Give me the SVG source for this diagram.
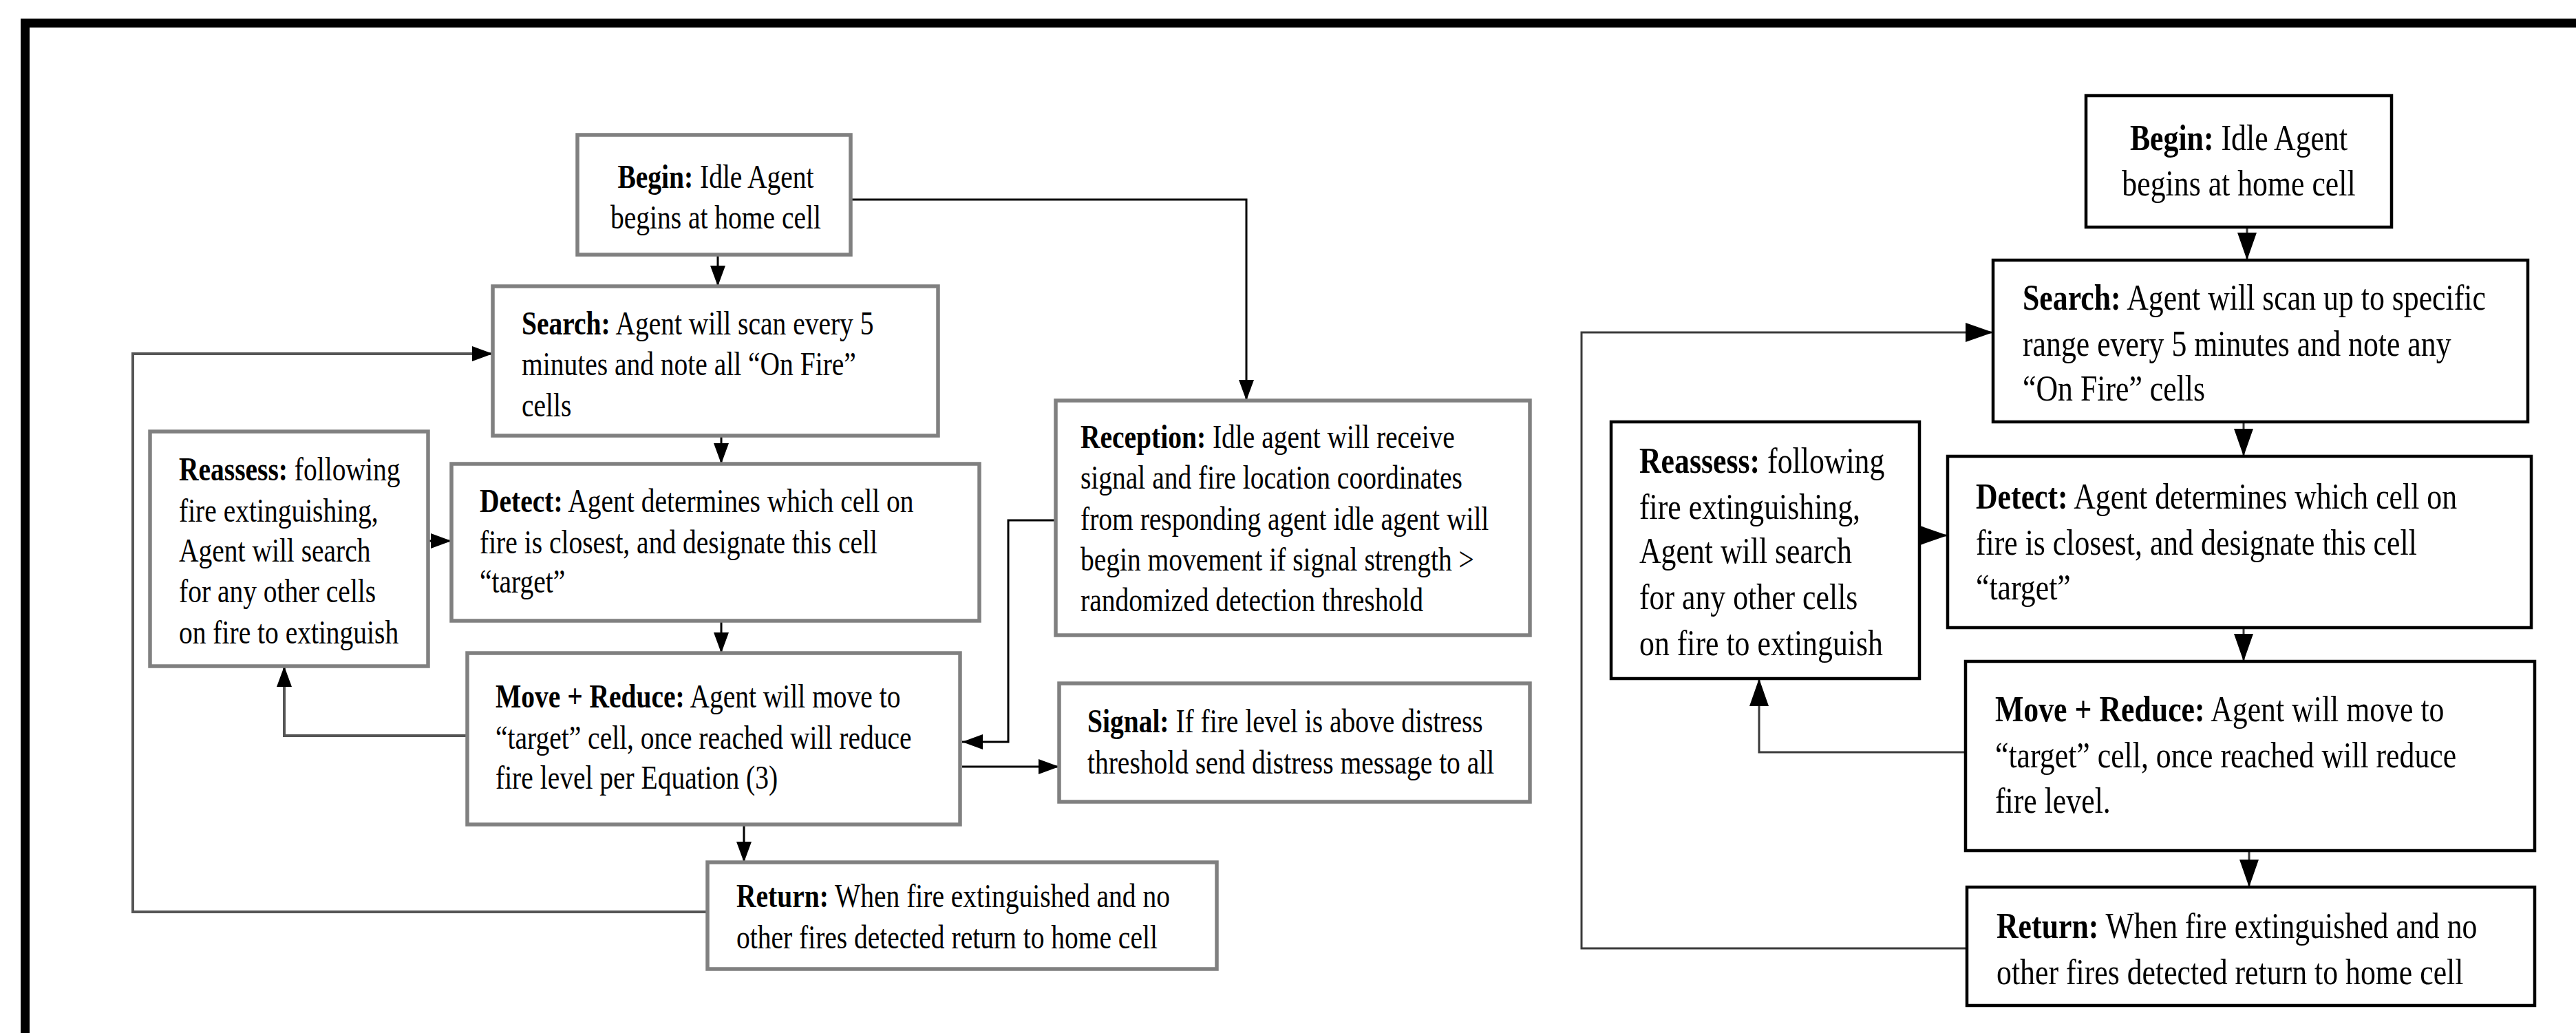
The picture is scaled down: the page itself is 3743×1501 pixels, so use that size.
<svg xmlns="http://www.w3.org/2000/svg" width="3743" height="1501" viewBox="0 0 3743 1501">
<style>
.bl{fill:#fff;stroke:#808080;stroke-width:5.5}
.br{fill:#fff;stroke:#000;stroke-width:4.5}
.tl{font-family:"Liberation Serif","Times New Roman",serif;font-size:39.5px;fill:#000}
.tr{font-family:"Liberation Serif","Times New Roman",serif;font-size:43.8px;fill:#000}
.c{text-anchor:middle}
.b{font-weight:bold}
.cl{fill:none;stroke:#000;stroke-width:3}
.cg{fill:none;stroke:#555;stroke-width:4}
.cr{fill:none;stroke:#3a3a3a;stroke-width:3}
</style>
<defs>
<marker id="aL" markerUnits="userSpaceOnUse" markerWidth="30" markerHeight="22" refX="30" refY="11" orient="auto"><path d="M0,0 L30,11 L0,22 Z" fill="#000"/></marker>
<marker id="aR" markerUnits="userSpaceOnUse" markerWidth="40" markerHeight="28" refX="40" refY="14" orient="auto"><path d="M0,0 L40,14 L0,28 Z" fill="#000"/></marker>
</defs>
<rect width="3743" height="1501" fill="#fff"/>
<g id="frame">
<rect x="30" y="27" width="3713" height="13" fill="#000"/>
<rect x="30" y="27" width="13" height="1474" fill="#000"/>
</g>
<g id="connectors">
<line class="cl" x1="1043" y1="370" x2="1043" y2="416" marker-end="url(#aL)"/>
<polyline class="cl" points="1236,290 1811,290 1811,582" marker-end="url(#aL)"/>
<line class="cl" x1="1048" y1="633" x2="1048" y2="674" marker-end="url(#aL)"/>
<line class="cl" x1="622" y1="786" x2="656" y2="786" marker-end="url(#aL)"/>
<line class="cl" x1="1048" y1="902" x2="1048" y2="949" marker-end="url(#aL)"/>
<polyline class="cg" points="679,1069 413,1069 413,968" marker-end="url(#aL)"/>
<line class="cl" x1="1081" y1="1198" x2="1081" y2="1253" marker-end="url(#aL)"/>
<polyline class="cg" points="1028,1325 193,1325 193,514 716,514" marker-end="url(#aL)"/>
<polyline class="cl" points="1534,756 1465,756 1465,1078 1398,1078" marker-end="url(#aL)"/>
<line class="cl" x1="1398" y1="1114" x2="1539" y2="1114" marker-end="url(#aL)"/>
<line class="cr" x1="3265" y1="330" x2="3265" y2="378" marker-end="url(#aR)"/>
<line class="cr" x1="3260" y1="613" x2="3260" y2="663" marker-end="url(#aR)"/>
<line class="cr" x1="2789" y1="778" x2="2830" y2="778" marker-end="url(#aR)"/>
<line class="cr" x1="3260" y1="912" x2="3260" y2="961" marker-end="url(#aR)"/>
<polyline class="cr" points="2856,1093 2556,1093 2556,986" marker-end="url(#aR)"/>
<line class="cr" x1="3268" y1="1236" x2="3268" y2="1289" marker-end="url(#aR)"/>
<polyline class="cr" points="2858,1378 2298,1378 2298,483 2896,483" marker-end="url(#aR)"/>
</g>
<g id="L-begin">
<rect class="bl" x="839" y="196" width="397" height="174"/>
<text class="tl c" x="1040" y="218.4" transform="scale(1,1.25)"><tspan class="b">Begin:</tspan> Idle Agent</text>
<text class="tl c" x="1040" y="265.6" transform="scale(1,1.25)">begins at home cell</text>
</g>
<g id="L-search">
<rect class="bl" x="716" y="416" width="647" height="217"/>
<text class="tl" x="758" y="388.8" transform="scale(1,1.25)"><tspan class="b">Search:</tspan> Agent will scan every 5</text>
<text class="tl" x="758" y="436" transform="scale(1,1.25)">minutes and note all “On Fire”</text>
<text class="tl" x="758" y="484" transform="scale(1,1.25)">cells</text>
</g>
<g id="L-reassess">
<rect class="bl" x="218" y="627" width="404" height="341"/>
<text class="tl" x="260" y="558.4" transform="scale(1,1.25)"><tspan class="b">Reassess:</tspan> following</text>
<text class="tl" x="260" y="606.4" transform="scale(1,1.25)">fire extinguishing,</text>
<text class="tl" x="260" y="652.8" transform="scale(1,1.25)">Agent will search</text>
<text class="tl" x="260" y="700" transform="scale(1,1.25)">for any other cells</text>
<text class="tl" x="260" y="748" transform="scale(1,1.25)">on fire to extinguish</text>
</g>
<g id="L-detect">
<rect class="bl" x="656" y="674" width="767" height="228"/>
<text class="tl" x="697" y="595.2" transform="scale(1,1.25)"><tspan class="b">Detect:</tspan> Agent determines  which cell  on</text>
<text class="tl" x="697" y="643.2" transform="scale(1,1.25)">fire is closest, and designate this cell</text>
<text class="tl" x="697" y="688.8" transform="scale(1,1.25)">“target”</text>
</g>
<g id="L-move">
<rect class="bl" x="679" y="949" width="716" height="249"/>
<text class="tl" x="720" y="822.4" transform="scale(1,1.25)"><tspan class="b">Move + Reduce:</tspan> Agent will move to</text>
<text class="tl" x="720" y="870.4" transform="scale(1,1.25)">“target”  cell, once reached will reduce</text>
<text class="tl" x="720" y="916.8" transform="scale(1,1.25)">fire level per Equation  (3)</text>
</g>
<g id="L-return">
<rect class="bl" x="1028" y="1253" width="740" height="155"/>
<text class="tl" x="1070" y="1054.4" transform="scale(1,1.25)"><tspan class="b">Return:</tspan> When fire extinguished and no</text>
<text class="tl" x="1070" y="1102.4" transform="scale(1,1.25)">other fires detected return to home cell</text>
</g>
<g id="L-reception">
<rect class="bl" x="1534" y="582" width="689" height="341"/>
<text class="tl" x="1570" y="520.8" transform="scale(1,1.25)"><tspan class="b">Reception:</tspan> Idle agent will receive</text>
<text class="tl" x="1570" y="568" transform="scale(1,1.25)">signal and fire location coordinates</text>
<text class="tl" x="1570" y="616" transform="scale(1,1.25)">from responding agent idle agent will</text>
<text class="tl" x="1570" y="663.2" transform="scale(1,1.25)">begin movement if signal strength &gt;</text>
<text class="tl" x="1570" y="710.4" transform="scale(1,1.25)">randomized  detection  threshold</text>
</g>
<g id="L-signal">
<rect class="bl" x="1539" y="993" width="684" height="172"/>
<text class="tl" x="1580" y="851.2" transform="scale(1,1.25)"><tspan class="b">Signal:</tspan> If fire level is above distress</text>
<text class="tl" x="1580" y="899.2" transform="scale(1,1.25)">threshold send distress message to all</text>
</g>
<g id="R-begin">
<rect class="br" x="3031" y="139" width="444" height="191"/>
<text class="tr c" x="3253" y="178.7" transform="scale(1,1.22)"><tspan class="b">Begin:</tspan> Idle Agent</text>
<text class="tr c" x="3253" y="232.8" transform="scale(1,1.22)">begins at home cell</text>
</g>
<g id="R-search">
<rect class="br" x="2896" y="378" width="777" height="235"/>
<text class="tr" x="2939" y="368.9" transform="scale(1,1.22)"><tspan class="b">Search:</tspan> Agent will scan up to specific</text>
<text class="tr" x="2939" y="423.8" transform="scale(1,1.22)">range every 5 minutes and note any</text>
<text class="tr" x="2939" y="477" transform="scale(1,1.22)">“On Fire” cells</text>
</g>
<g id="R-reassess">
<rect class="br" x="2341" y="613" width="448" height="373"/>
<text class="tr" x="2382" y="563.1" transform="scale(1,1.22)"><tspan class="b">Reassess:</tspan> following</text>
<text class="tr" x="2382" y="618" transform="scale(1,1.22)">fire extinguishing,</text>
<text class="tr" x="2382" y="670.5" transform="scale(1,1.22)">Agent will search</text>
<text class="tr" x="2382" y="725.4" transform="scale(1,1.22)">for any other cells</text>
<text class="tr" x="2382" y="780.3" transform="scale(1,1.22)">on fire to extinguish</text>
</g>
<g id="R-detect">
<rect class="br" x="2830" y="663" width="848" height="249"/>
<text class="tr" x="2871" y="605.7" transform="scale(1,1.22)"><tspan class="b">Detect:</tspan> Agent determines which cell on</text>
<text class="tr" x="2871" y="660.7" transform="scale(1,1.22)">fire is closest, and designate this cell</text>
<text class="tr" x="2871" y="713.9" transform="scale(1,1.22)">“target”</text>
</g>
<g id="R-move">
<rect class="br" x="2856" y="961" width="827" height="275"/>
<text class="tr" x="2899" y="859" transform="scale(1,1.22)"><tspan class="b">Move + Reduce:</tspan> Agent will move to</text>
<text class="tr" x="2899" y="913.9" transform="scale(1,1.22)">“target” cell, once reached will reduce</text>
<text class="tr" x="2899" y="968" transform="scale(1,1.22)">fire level.</text>
</g>
<g id="R-return">
<rect class="br" x="2858" y="1289" width="825" height="172"/>
<text class="tr" x="2901" y="1117.2" transform="scale(1,1.22)"><tspan class="b">Return:</tspan> When fire extinguished and no</text>
<text class="tr" x="2901" y="1172.1" transform="scale(1,1.22)">other fires detected return to home cell</text>
</g>
</svg>
